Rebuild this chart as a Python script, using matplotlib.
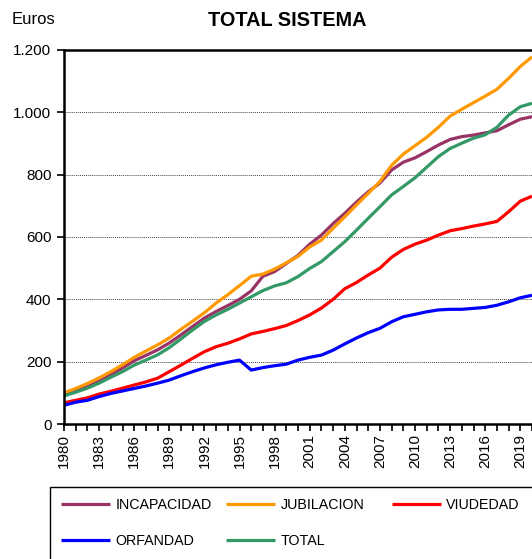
## TOTAL SISTEMA - pensiones medias por clase
import numpy as np
import matplotlib
matplotlib.use("Agg")
import matplotlib.pyplot as plt
from matplotlib.ticker import FuncFormatter, MultipleLocator
from matplotlib.patches import Rectangle

plt.rcParams['font.family'] = ['Liberation Sans', 'DejaVu Sans']

# data
years = list(range(1980, 2021))

incapacidad = [94, 106, 120, 137, 158, 180, 203, 220, 238, 260,
               286, 313, 340, 361, 380, 400, 427, 474, 489, 515,
               541, 577, 606, 643, 676, 712, 745, 773, 815, 840,
               854, 874, 895, 913, 922, 927, 934, 941, 960, 978, 986]
jubilacion = [100, 114, 130, 148, 168, 190, 214, 234, 254, 276,
              304, 330, 357, 388, 415, 444, 474, 481, 497, 517,
              538, 568, 590, 628, 665, 703, 740, 778, 830, 866,
              893, 920, 952, 988, 1010, 1031, 1052, 1074, 1109, 1147, 1178]
viudedad = [68, 76, 84, 96, 105, 115, 125, 135, 147, 168,
            189, 211, 232, 248, 259, 273, 289, 297, 306, 316,
            332, 350, 372, 400, 434, 454, 478, 500, 535, 560,
            577, 590, 606, 620, 627, 635, 642, 650, 681, 715, 731]
orfandad = [60, 70, 76, 88, 98, 106, 114, 122, 131, 141,
            155, 168, 180, 190, 198, 205, 173, 181, 187, 192,
            205, 214, 221, 237, 257, 276, 293, 307, 328, 344,
            352, 360, 366, 368, 368, 371, 374, 381, 392, 405, 413]
total = [90, 102, 115, 131, 150, 168, 189, 205, 222, 245,
         273, 302, 329, 350, 368, 388, 408, 428, 443, 453,
         473, 499, 521, 553, 585, 622, 660, 697, 735, 762,
         790, 824, 858, 884, 901, 917, 928, 952, 991, 1018, 1029]

series = [("INCAPACIDAD", incapacidad, "#993366"),
          ("JUBILACION", jubilacion, "#FF9900"),
          ("VIUDEDAD", viudedad, "#FF0000"),
          ("ORFANDAD", orfandad, "#0000FF"),
          ("TOTAL", total, "#339966")]

W, H = 532, 559
fig = plt.figure(figsize=(W / 100, H / 100), dpi=100)

# axes runs past the right edge of the picture (cropped chart)
px_year = 11.7
x0, y0, y1 = 64, 424, 50
xmax = 1981 + 40.5
ax = fig.add_axes([x0 / W, (H - y0) / H, (xmax - 1980) * px_year / W, (y0 - y1) / H])

lines = {}
for name, vals, col in series:
    lines[name], = ax.plot(years, vals, color=col, lw=2.3, solid_capstyle='butt', label=name)

ax.set_xlim(1980, xmax)
ax.set_ylim(0, 1200)
ax.yaxis.set_major_locator(MultipleLocator(200))
ax.yaxis.set_major_formatter(FuncFormatter(lambda v, p: f"{int(v):,}".replace(",", ".")))
ax.set_xticks(range(1980, 2021, 3))
ax.set_xticks(range(1980, 2022), minor=True)
ax.set_xticklabels([str(y) for y in range(1980, 2021, 3)], rotation=90)

for gy in range(200, 1200, 200):
    ax.axhline(gy, color="#444444", lw=0.7, ls=(0, (1, 1)), zorder=0)

for s in ['left', 'bottom', 'top']:
    ax.spines[s].set_linewidth(1.8)
ax.spines['right'].set_visible(False)
ax.tick_params(axis='both', which='both', direction='out', length=5, width=1.2,
               labelsize=11, colors='black')
ax.tick_params(axis='x', pad=2)
ax.tick_params(axis='y', pad=4)

fig.text(287 / W, 1 - 20 / H, "TOTAL SISTEMA", ha='center', va='center',
         fontsize=14.3, fontweight='bold')
fig.text(12 / W, 1 - 19 / H, "Euros", ha='left', va='center', fontsize=12)

# legend box, cut off by the picture edges
fig.patches.append(Rectangle((50 / W, -0.05), 1.0, (H - 487) / H + 0.05,
                             transform=fig.transFigure, fill=False,
                             edgecolor='black', lw=1.0, clip_on=False))

cols = [(["INCAPACIDAD", "ORFANDAD"], 61),
        (["JUBILACION", "TOTAL"], 226),
        (["VIUDEDAD"], 392)]
for names, xpx in cols:
    leg = fig.legend([lines[n] for n in names], names, loc='upper left',
                     bbox_to_anchor=(xpx / W, 1 - 498 / H), frameon=False,
                     fontsize=10.3, handlelength=3.45, handletextpad=0.35,
                     labelspacing=1.55, borderpad=0, borderaxespad=0)

fig.savefig("out.png", dpi=100)
